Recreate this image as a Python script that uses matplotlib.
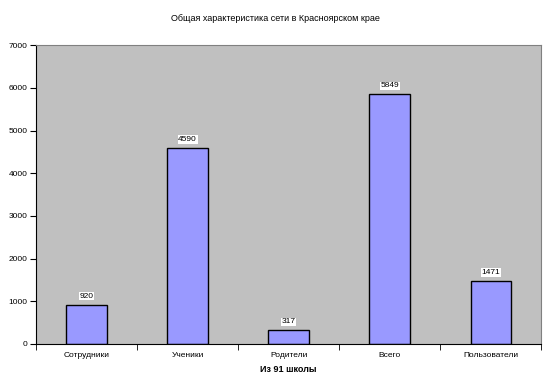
import matplotlib
matplotlib.use("Agg")
import matplotlib.pyplot as plt
import numpy as np

categories = ["Сотрудники", "Ученики", "Родители", "Всего", "Пользователи"]
values = [920, 4590, 317, 5849, 1471]
yticks = [0, 1000, 2000, 3000, 4000, 5000, 6000, 7000]

plt.rcParams['font.family'] = ['Liberation Sans', 'DejaVu Sans']

fig = plt.figure(figsize=(5.51, 3.89), dpi=100)
ax = fig.add_axes([0.0653, 0.1157, 0.917, 0.768])
ax.set_facecolor("#C0C0C0")

x = np.arange(len(categories))
bars = ax.bar(x, values, width=0.4, color="#9999FF", edgecolor="black", linewidth=1)
for xi, v in zip(x, values):
    ax.text(xi, v + 120, str(v), ha="center", va="bottom", fontsize=6,
            bbox=dict(facecolor="white", edgecolor="none", pad=0.5))

ax.set_xlim(-0.5, len(categories) - 0.5)
ax.set_ylim(0, 7000)
ax.set_yticks(yticks)
ax.set_yticklabels([str(t) for t in yticks], fontsize=6)
ax.set_xticks(x)
ax.set_xticklabels(categories, fontsize=6)
ax.tick_params(axis="x", length=0, pad=6)
ax.set_xticks(np.arange(-0.5, len(categories)), minor=True)
ax.tick_params(axis="x", which="minor", length=4, direction="out")
ax.tick_params(axis="y", length=4, direction="out", pad=2)
ax.set_xlabel("Из 91 школы", fontsize=6.5, fontweight="bold", labelpad=4)
for s in ["top", "right"]:
    ax.spines[s].set_color("#808080")
    ax.spines[s].set_linewidth(0.8)
fig.text(0.5, 0.953, "Общая характеристика сети в Красноярском крае", ha="center", va="center", fontsize=6.5)

fig.savefig("out.png", dpi=100)
